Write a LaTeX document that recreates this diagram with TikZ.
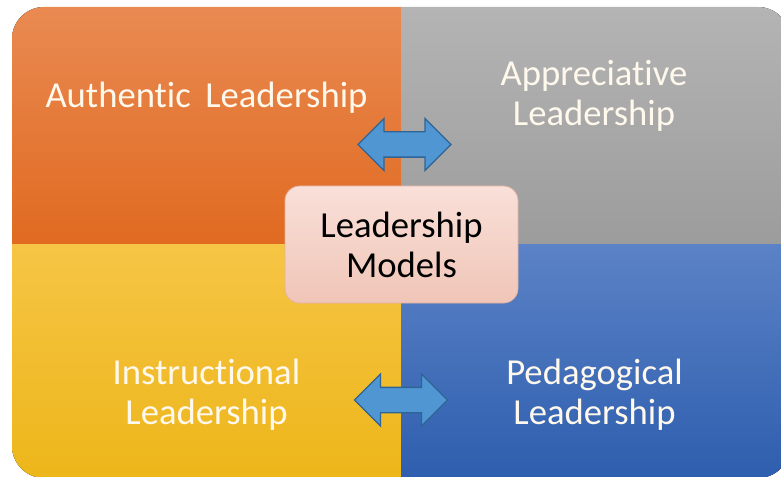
\documentclass[tikz,border=0pt]{standalone}
\usepackage{fontspec}
\setmainfont{Carlito}[Ligatures={NoCommon,NoContextual},RawFeature={-liga;-clig;-dlig}]
\usepackage{tikz}
\usetikzlibrary{shapes.arrows}

\definecolor{orangeTop}{HTML}{E98A52}
\definecolor{orangeBot}{HTML}{E06A20}
\definecolor{grayTop}{HTML}{B4B4B4}
\definecolor{grayBot}{HTML}{9C9C9C}
\definecolor{yellowTop}{HTML}{F6C545}
\definecolor{yellowBot}{HTML}{EDB61A}
\definecolor{blueTop}{HTML}{5B82C6}
\definecolor{blueBot}{HTML}{2E5EAE}
\definecolor{hubTop}{HTML}{F9E0D9}
\definecolor{hubBot}{HTML}{F0C5B7}
\definecolor{hubLine}{HTML}{E2B2A3}
\definecolor{arrowFill}{HTML}{4F96D2}
\definecolor{arrowLine}{HTML}{2F6596}
\definecolor{cream}{HTML}{FFF8EC}

\tikzset{
  quadtext/.style={text=cream,font=\fontsize{27.5}{30}\selectfont,align=center,inner sep=0pt},
  hub/.style={rectangle,rounded corners=11pt,draw=hubLine,line width=0.6pt,top color=hubTop,bottom color=hubBot,
    minimum width=174.75pt,minimum height=87.75pt,align=center,font=\fontsize{27.5}{30}\selectfont},
  twoway/.style={double arrow,draw=arrowLine,fill=arrowFill,line width=1pt,inner xsep=0pt,inner ysep=9pt,
    minimum height=69.75pt,double arrow head extend=10pt}
}

\begin{document}
\begin{tikzpicture}[x=0.75pt,y=-0.75pt]
\useasboundingbox (0,0) rectangle (781,477);

\begin{scope}
 \clip[rounded corners=24pt] (12,7) rectangle (790,478);
 \fill[top color=orangeTop,bottom color=orangeBot] (12,7) rectangle (401,245);
 \fill[top color=grayTop,bottom color=grayBot] (401,7) rectangle (790,245);
 \fill[top color=yellowTop,bottom color=yellowBot] (12,245) rectangle (401,478);
 \fill[top color=blueTop,bottom color=blueBot] (401,245) rectangle (790,478);
\end{scope}

 \node at (206.5,98) [quadtext] (auth) {Authentic\ \,Leadership};
 \node at (594,96) [quadtext] (appr) {Appreciative\\Leadership};
 \node at (206.5,395) [quadtext] (inst) {Instructional\\Leadership};
 \node at (594.5,395) [quadtext] (peda) {Pedagogical\\Leadership};

 \node at (404.5,144.5) [twoway] (upper) {};
 \node at (401,400) [twoway] (lower) {};

 \node at (401.5,244.5) [hub] (models) {Leadership\\Models};
\end{tikzpicture}
\end{document}
